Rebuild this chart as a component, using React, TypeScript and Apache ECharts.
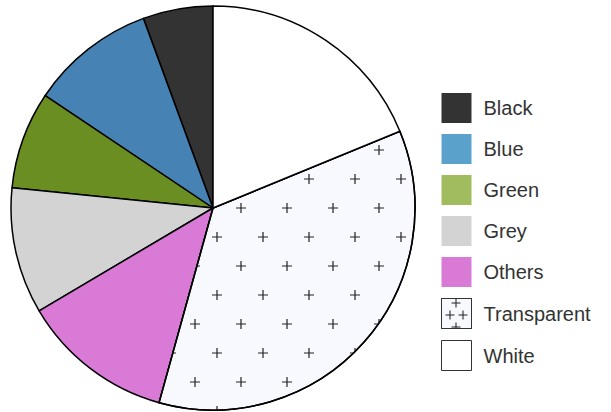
import React, { useEffect, useRef } from "react";
import * as echarts from "echarts";

const categories = ["Black", "Blue", "Green", "Grey", "Others", "Transparent", "White"];
const values = [5.6, 10.0, 7.8, 10.1, 12.2, 35.5, 18.8];
const sliceColors = ["#333333", "#4682b4", "#6b8e23", "#d3d3d3", "#d87ad6", "#f8f8ff", "#ffffff"];
const legendColors = ["#333333", "#5aa2cc", "#a0bc5e", "#d3d3d3", "#d87ad6", "#f8f8ff", "#ffffff"];

const plusPath = "path://M4.4,0H5.6V4.4H10V5.6H5.6V10H4.4V5.6H0V4.4H4.4Z";
const plusDecal = {
  symbol: plusPath,
  symbolSize: 1,
  color: "#222222",
  dashArrayX: [[0, 6, 10, 30], [0, 28, 10, 8]],
  dashArrayY: [10, 19],
  rotation: 0,
};
const legendDecal = {
  symbol: plusPath,
  symbolSize: 1,
  color: "#222222",
  dashArrayX: [[0, 4, 9, 4, 9, 4], [0, 10, 9, 11]],
  dashArrayY: [9, 3],
  rotation: 0,
};

export default function App() {
  const ref = useRef<HTMLDivElement>(null);
  useEffect(() => {
    if (!ref.current) return;
    const chart = echarts.init(ref.current, null, { renderer: "svg" });
    chart.setOption({
      animation: false,
      backgroundColor: "#ffffff",
      legend: {
        orient: "vertical",
        left: 441,
        top: 93,
        padding: 0,
        itemWidth: 30,
        itemHeight: 30,
        itemGap: 11,
        icon: "rect",
        textStyle: { fontSize: 20, color: "#333333", fontFamily: "Liberation Sans, Arial, sans-serif", padding: [0, 0, 0, 7] },
        data: categories.map((name, i) => ({
          name,
          itemStyle: {
            color: legendColors[i],
            borderColor: "#333333",
            borderWidth: name === "Transparent" || name === "White" ? 1 : 0,
            decal: name === "Transparent" ? legendDecal : "none",
          },
        })),
      },
      series: [
        {
          type: "pie",
          center: [213, 208],
          radius: [0, 202],
          startAngle: 90,
          clockwise: false,
          label: { show: false },
          labelLine: { show: false },
          emphasis: { disabled: true },
          itemStyle: { borderColor: "#000000", borderWidth: 1.5 },
          data: categories.map((name, i) => ({
            name,
            value: values[i],
            itemStyle: {
              color: sliceColors[i],
              decal: name === "Transparent" ? plusDecal : "none",
            },
          })),
        },
      ],
    });
    return () => chart.dispose();
  }, []);
  return <div ref={ref} style={{ position: "fixed", left: 0, top: 0, width: 611, height: 412 }} />;
}
